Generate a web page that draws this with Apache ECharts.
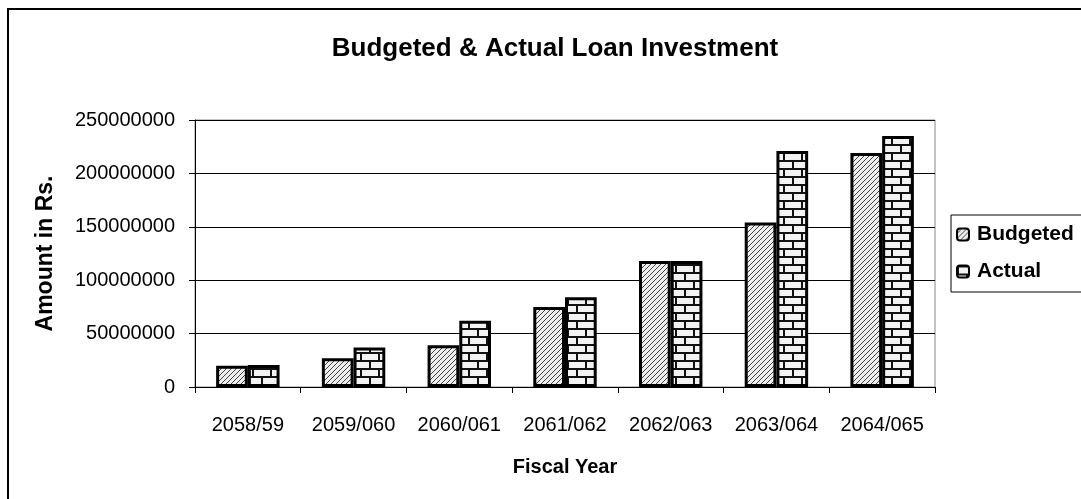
<!DOCTYPE html>
<html>
<head>
<meta charset="utf-8">
<script src="https://cdn.jsdelivr.net/npm/echarts@6/dist/echarts.min.js"></script>
<style>
  html, body { margin: 0; padding: 0; background: #fff; }
  #chart { width: 1081px; height: 499px; }
</style>
</head>
<body>
<div id="chart"></div>
<script>
// data
const categories = ['2058/59', '2059/060', '2060/061', '2061/062', '2062/063', '2063/064', '2064/065']
const budgeted = [20000000, 27000000, 39000000, 75000000, 118000000, 154000000, 219000000]
const actual = [20500000, 37000000, 62000000, 84000000, 118000000, 221000000, 235000000]
const seriesNames = ['Budgeted', 'Actual']

const FONT = 'Liberation Sans, Arial, sans-serif'

// diagonal hatch fill
const makeHatch = () => {
  const c = document.createElement('canvas')
  const s = 5
  c.width = s
  c.height = s
  const ctx = c.getContext('2d')
  ctx.fillStyle = '#eeeeee'
  ctx.fillRect(0, 0, s, s)
  ctx.strokeStyle = '#444'
  ctx.lineWidth = 1
  ctx.beginPath()
  ctx.moveTo(0, s); ctx.lineTo(s, 0)
  ctx.moveTo(-1, 1); ctx.lineTo(1, -1)
  ctx.moveTo(s - 1, s + 1); ctx.lineTo(s + 1, s - 1)
  ctx.stroke()
  return c
}

// brick fill
const makeBrick = () => {
  const c = document.createElement('canvas')
  const w = 18, h = 16
  c.width = w
  c.height = h
  const ctx = c.getContext('2d')
  ctx.fillStyle = '#f3f3f3'
  ctx.fillRect(0, 0, w, h)
  ctx.fillStyle = '#111'
  ctx.fillRect(0, 0, w, 2)
  ctx.fillRect(0, 8, w, 2)
  ctx.fillRect(0, 0, 2, 8)
  ctx.fillRect(9, 8, 2, 8)
  return c
}

const hatchFill = { image: makeHatch(), repeat: 'repeat' }
const brickFill = { image: makeBrick(), repeat: 'repeat' }

const chart = echarts.init(document.getElementById('chart'))

const option = {
  animation: false,
  backgroundColor: '#fff',
  textStyle: { fontFamily: FONT },
  title: {
    text: 'Budgeted & Actual Loan Investment',
    left: 550,
    top: 31,
    textAlign: 'center',
    textStyle: { fontFamily: FONT, fontSize: 26, fontWeight: 'bold', color: '#000' }
  },
  legend: {
    orient: 'vertical',
    left: 956,
    top: 224,
    itemWidth: 12,
    itemHeight: 12,
    itemGap: 16,
    padding: 0,
    data: seriesNames,
    textStyle: { fontFamily: FONT, fontSize: 21, fontWeight: 'bold', color: '#000', padding: [0, 0, 0, 3] }
  },
  graphic: [
    {
      type: 'rect',
      silent: true,
      shape: { x: 8, y: 9, width: 1100, height: 520 },
      style: { fill: 'none', stroke: '#000', lineWidth: 2 }
    },
    {
      type: 'rect',
      silent: true,
      shape: { x: 951, y: 215, width: 200, height: 77 },
      style: { fill: 'none', stroke: '#000', lineWidth: 1 }
    }
  ],
  grid: {
    left: 195,
    right: 146,
    top: 120,
    bottom: 112,
    show: true,
    borderColor: '#888',
    borderWidth: 1
  },
  xAxis: {
    type: 'category',
    data: categories,
    name: 'Fiscal Year',
    nameLocation: 'middle',
    nameGap: 70,
    nameTextStyle: { fontFamily: FONT, fontSize: 20, fontWeight: 'bold', color: '#000' },
    axisLine: { lineStyle: { color: '#000', width: 1 } },
    axisTick: { show: true, length: 6, lineStyle: { color: '#000' } },
    axisLabel: { color: '#000', fontSize: 20, fontFamily: FONT, margin: 28, interval: 0 }
  },
  yAxis: {
    type: 'value',
    min: 0,
    max: 250000000,
    interval: 50000000,
    name: 'Amount in Rs.',
    nameLocation: 'middle',
    nameRotate: 90,
    nameGap: 138,
    nameTextStyle: { fontFamily: FONT, fontSize: 23, fontWeight: 'bold', color: '#000' },
    axisLine: { show: true, lineStyle: { color: '#000', width: 1 } },
    axisTick: { show: true, length: 6, lineStyle: { color: '#000' } },
    axisLabel: { color: '#000', fontSize: 20, fontFamily: FONT, margin: 20, formatter: v => String(v) },
    splitLine: { lineStyle: { color: '#000', width: 1 } }
  },
  series: [
    {
      name: seriesNames[0],
      type: 'bar',
      data: budgeted,
      barGap: '0%',
      barCategoryGap: '40%',
      itemStyle: { color: hatchFill, borderColor: '#000', borderWidth: 3 }
    },
    {
      name: seriesNames[1],
      type: 'bar',
      data: actual,
      itemStyle: { color: brickFill, borderColor: '#000', borderWidth: 3 }
    }
  ]
}

chart.setOption(option)
</script>
</body>
</html>
